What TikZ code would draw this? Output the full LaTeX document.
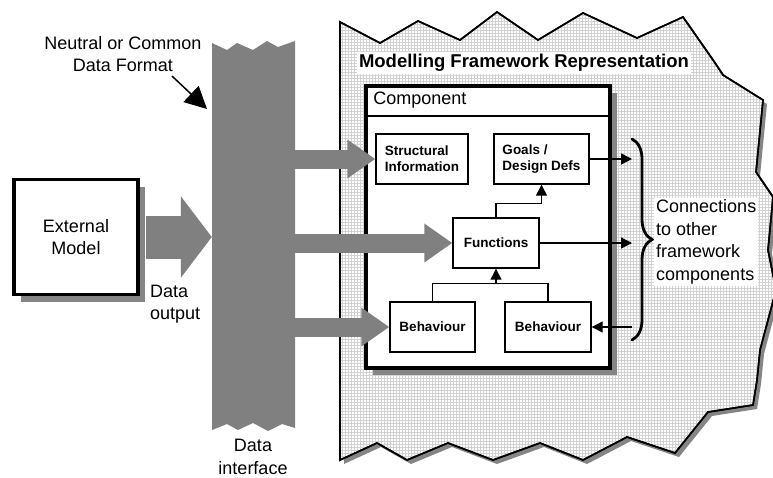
\documentclass[tikz,border=0pt]{standalone}
\usepackage{fontspec}
\setmainfont{Liberation Sans}
\usetikzlibrary{arrows.meta, positioning, calc, shadows, patterns, decorations.pathreplacing}
\definecolor{ifgray}{HTML}{808080}
\definecolor{shadegray}{HTML}{858585}
\definecolor{gridgray}{HTML}{D2D2D2}

\begin{document}
\begin{tikzpicture}[
    x=1pt, y=-1pt,
    txt/.style={font=\fontsize{18}{22.5}\selectfont, inner sep=0pt, align=center},
    heavybox/.style={
      draw, line width=3.5pt, fill=white,
      drop shadow={shadow xshift=7pt, shadow yshift=-7pt, fill=shadegray, opacity=1}
    },
    partbox/.style={
      draw, line width=1.4pt, fill=white, minimum height=50pt,
      inner sep=2pt, align=left, font=\bfseries\fontsize{13.5}{16}\selectfont
    },
    conn/.style={line width=1.3pt, -{Triangle[length=11pt, width=11pt]}},
    fatarrow/.style={draw=ifgray, line width=19pt, -{Triangle[length=28pt, width=37pt]}},
    extarrow/.style={draw=ifgray, line width=43pt, -{Triangle[length=31pt, width=80pt]}}
  ]
  \useasboundingbox (0,0) rectangle (773,477);

  % framework outline (jagged), shadow first
  \def\frameworkpath{(340,22) -- (380,43) -- (418,21) -- (460,40) -- (497,12) -- (538,40)
    -- (583,13) -- (637,38) -- (683,17) -- (713,60) -- (723,75) -- (763,100) -- (756,172)
    -- (773,197) -- (768,250) -- (776,290) -- (760,350) -- (757,380) -- (753,405)
    -- (708,412) -- (675,453) -- (627,437) -- (583,460) -- (540,443) -- (493,460)
    -- (448,443) -- (407,460) -- (377,443) -- (340,460) -- cycle}
  \fill[shadegray, shift={(4,4)}] \frameworkpath;
  \draw[line width=1.6pt, preaction={fill=white}, pattern=grid, pattern color=gridgray]
    \frameworkpath;
  \draw[line width=1.6pt] \frameworkpath;

  \node[txt, font=\bfseries\fontsize{18.5}{22}\selectfont, fill=white, inner sep=2pt]
    (title) at (524,63) {Modelling Framework Representation};

  % component box with header strip
  \node[heavybox, minimum width=244pt, minimum height=282pt] (comp) at (488,227) {};
  \node[txt, anchor=north west, inner xsep=9pt, text width=226pt, align=left,
        minimum height=31pt] (head) at (comp.north west) {Component};
  \draw[line width=2pt] (head.south west) -- (head.south east);

  \node[partbox, minimum width=92pt] (struct) at (422,159) {Structural\\Information};
  \node[partbox, minimum width=95pt] (goals) at (541.5,159) {Goals /\\Design Defs};
  \node[partbox, minimum width=86pt, align=center] (func) at (496,243) {Functions};
  \node[partbox, minimum width=85pt, align=center] (beh1) at (432.5,327) {Behaviour};
  \node[partbox, minimum width=86pt, align=center] (beh2) at (548,327) {Behaviour};

  \draw[conn] (func.north) -- ++(0,-14) -| (goals.south);
  \draw[line width=1.3pt] (beh1.north) -- ++(0,-18) -| (beh2.north);
  \draw[conn] ([yshift=18pt]func.south |- beh1.north) -- (func.south);

  % links out to the rest of the framework
  \coordinate (bracetop) at (632,139);
  \coordinate (bracebot) at (632,340);
  \draw[draw=black, line width=2.8pt, line cap=round, decorate,
        decoration={brace, amplitude=20pt, aspect=0.5}]
    (bracetop) -- (bracebot);
  \node[txt, anchor=west, align=left, fill=white, inner sep=2pt] (links) at (654,242)
    {Connections\\to other\\framework\\components};
  \draw[conn] (goals.east) -- (goals.east -| bracetop);
  \draw[conn] (func.east) -- (func.east -| bracetop);
  \draw[conn] (beh2.east -| bracetop) -- (beh2.east);

  % data interface column
  \path node[minimum width=83pt, minimum height=380pt, inner sep=0pt] (iface) at (253.5,236) {};
  \fill[ifgray] (212,43) -- (227,50) -- (237,43) -- (253,50) -- (267,41) -- (278,47)
    -- (295,41) -- (295,428) -- (282,424) -- (268,431) -- (253,423) -- (238,430)
    -- (227,424) -- (212,430) -- cycle;

  \draw[fatarrow] (iface.east |- struct.west) -- (struct.west);
  \draw[fatarrow] (iface.east |- func.west) -- (func.west);
  \draw[fatarrow] (iface.east |- beh1.west) -- (beh1.west);

  % external model feeding the interface
  \node[heavybox, minimum width=124pt, minimum height=115pt, txt] (ext) at (76,237)
    {External\\Model};
  \draw[extarrow] ([xshift=6pt]ext.east) -- (iface.west |- ext.east);

  \node[txt, anchor=west, align=left] (dataout) at (150,304) {Data\\output};
  \node[txt] (ifacelbl) at (253,457) {Data\\interface};

  \node[txt] (fmt) at (123,54) {Neutral or Common\\Data Format};
  \coordinate (fmtptr) at (207,109);
  \draw[line width=1.5pt, -{Triangle[length=22pt, width=22pt]}]
    ([xshift=49pt, yshift=-4pt]fmt.south) -- (fmtptr);
\end{tikzpicture}
\end{document}
